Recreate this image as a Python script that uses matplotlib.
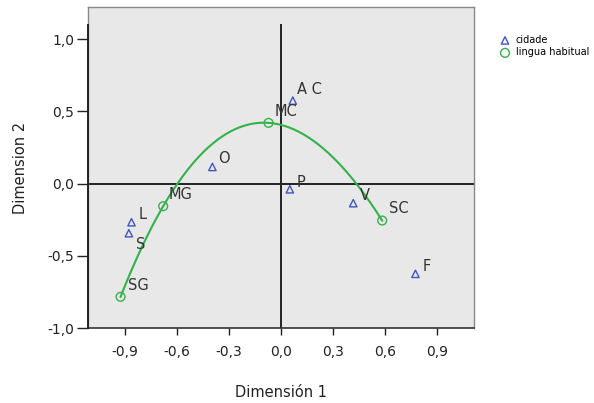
import numpy as np
import matplotlib
matplotlib.use("Agg")
import matplotlib.pyplot as plt
from matplotlib.ticker import FuncFormatter

# cidade (triangles)
cid_lab = ["A C", "O", "P", "V", "L", "S", "F"]
cid_x = [0.069, -0.395, 0.052, 0.418, -0.862, -0.877, 0.777]
cid_y = [0.574, 0.115, -0.040, -0.136, -0.268, -0.344, -0.625]
cid_off = [(4, 11), (6, 8), (7, 7), (7, 8), (7, 8), (7, -11), (7, 7)]

# lingua habitual (circles)
lin_lab = ["SG", "MG", "MC", "SC"]
lin_x = [-0.925, -0.679, -0.071, 0.585]
lin_y = [-0.784, -0.157, 0.420, -0.256]
lin_off = [(7, 11), (5, 12), (6, 11), (7, 12)]

xticks = [-0.9, -0.6, -0.3, 0.0, 0.3, 0.6, 0.9]
yticks = [-1.0, -0.5, 0.0, 0.5, 1.0]

BLUE = "#3f55c0"
GREEN = "#33b24a"
px = 0.72  # pixel -> points at dpi 100

fig = plt.figure(figsize=(5.94, 4.03), dpi=100)
ax = fig.add_axes([88/594, 1-328/403, (474-88)/594, (328-7)/403])
ax.set_facecolor("#e8e8e8")
ax.set_xlim(-1.113, 1.115)
ax.set_ylim(-1.0, 1.222)

ax.axhline(0, color="#222", lw=1.4, zorder=1)
ax.plot([0, 0], [-1.0, 1.1], color="#222", lw=1.4, zorder=1)

# smooth curve through the lingua points (cubic through the 4 points)
c = np.polyfit(lin_x, lin_y, 3)
xs = np.linspace(min(lin_x), max(lin_x), 200)
ax.plot(xs, np.polyval(c, xs), color=GREEN, lw=1.5, zorder=2)

ax.scatter(cid_x, cid_y, marker="^", s=28, facecolors="none", edgecolors=BLUE, lw=1.0, zorder=3, label="cidade")
ax.scatter(lin_x, lin_y, marker="o", s=40, facecolors="none", edgecolors=GREEN, lw=1.0, zorder=3, label="lingua habitual")

for lab, x, y, (dx, dy) in zip(cid_lab + lin_lab, cid_x + lin_x, cid_y + lin_y, cid_off + lin_off):
    ax.annotate(lab, (x, y), xytext=(dx*px, dy*px), textcoords="offset points",
                fontsize=10.5, color="#333", va="center", ha="left", zorder=4)

ax.set_xticks(xticks)
ax.set_yticks(yticks)
fmt = FuncFormatter(lambda v, p: f"{v:.1f}".replace(".", ",").replace("-0,0", "0,0"))
ax.xaxis.set_major_formatter(fmt)
ax.yaxis.set_major_formatter(fmt)
ax.tick_params(axis="x", direction="out", length=5, width=1, pad=7, labelsize=10, colors="#222")
ax.tick_params(axis="y", direction="out", length=8, width=1, pad=2, labelsize=10, colors="#222")

for s in ["top", "right", "left"]:
    ax.spines[s].set_color("#888")
    ax.spines[s].set_linewidth(1)
ax.spines["bottom"].set_color("#333")
ax.spines["bottom"].set_linewidth(1.2)
ax.plot([ax.get_xlim()[0]]*2, [-1.0, 1.1], color="#222", lw=1.4, clip_on=False, zorder=5)

ax.set_xlabel("Dimensión 1", fontsize=10.5, color="#222", labelpad=19)
ax.set_ylabel("Dimension 2", fontsize=10.5, color="#222", labelpad=14)

ax.legend(loc="upper left", bbox_to_anchor=(1.045, 0.925), frameon=False, fontsize=7,
          handletextpad=0.1, borderaxespad=0, labelspacing=0.25)

fig.savefig("out.png", dpi=100)
